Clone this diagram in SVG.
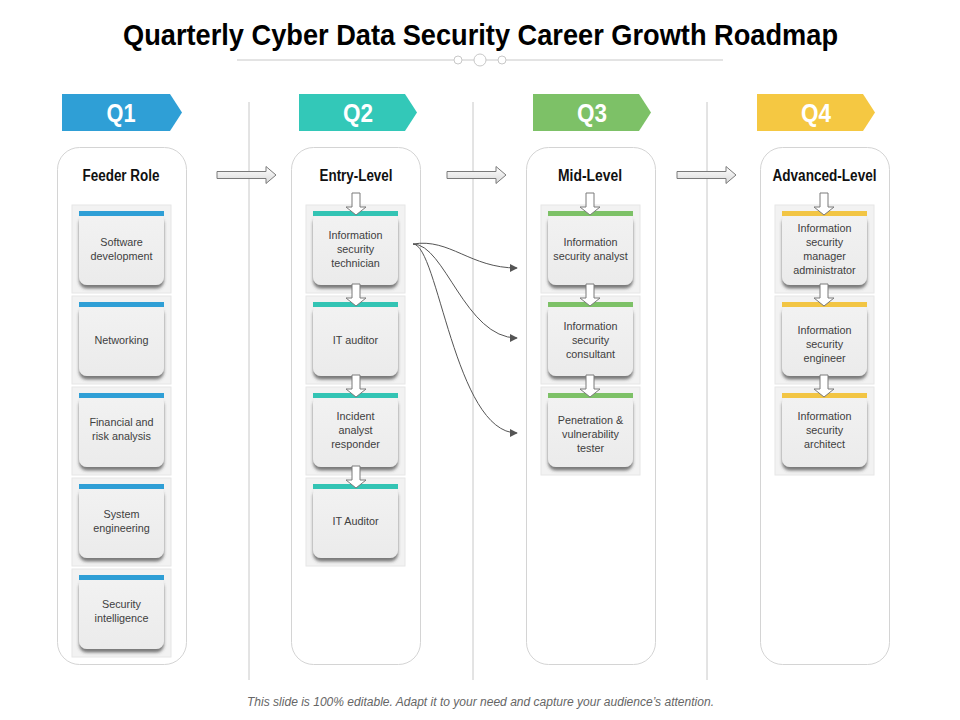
<svg xmlns="http://www.w3.org/2000/svg" width="960" height="720" viewBox="0 0 960 720">
<defs>
<style>
.title{font-family:"Liberation Sans",Arial,sans-serif;font-weight:bold;font-size:30px;fill:#000}
.q{font-family:"Liberation Sans",Arial,sans-serif;font-weight:bold;font-size:26px;fill:#fff;text-anchor:middle}
.hdr{font-family:"Liberation Sans",Arial,sans-serif;font-weight:bold;font-size:16px;fill:#111;text-anchor:middle}
.t{font-family:"Liberation Sans",Arial,sans-serif;font-size:10.8px;fill:#404040;text-anchor:middle}
.foot{font-family:"Liberation Sans",Arial,sans-serif;font-style:italic;font-size:12px;fill:#666}
.sep{stroke:#c8c8c8;stroke-width:1}
.panel{fill:#fff;stroke:#d4d4d4;stroke-width:1}
.outer{fill:#f2f2f2;stroke:#e6e6e6;stroke-width:1}
.body{fill:url(#cg);filter:url(#sh)}
.b1{fill:#2f9fd6}.b2{fill:#33c4b4}.b3{fill:#7dc167}.b4{fill:#f2c544}
.blk{fill:url(#ag);stroke:#7a7a7a;stroke-width:1}
.dn{fill:#fff;stroke:#7a7a7a;stroke-width:1}
.con{fill:none;stroke:#555;stroke-width:1;marker-end:url(#ah)}
.deco{fill:#fff;stroke:#c8c8c8;stroke-width:1}
</style>
<linearGradient id="cg" x1="0" y1="0" x2="0" y2="1"><stop offset="0" stop-color="#f2f2f2"/><stop offset="1" stop-color="#ebebeb"/></linearGradient>
<linearGradient id="ag" x1="0" y1="0" x2="0" y2="1"><stop offset="0" stop-color="#ffffff"/><stop offset="1" stop-color="#d9d9d9"/></linearGradient>
<filter id="sh" x="-20%" y="-20%" width="140%" height="150%"><feDropShadow dx="0" dy="3.5" stdDeviation="1.6" flood-color="#444" flood-opacity="0.7"/></filter>
<marker id="ah" viewBox="0 0 10 10" refX="9" refY="5" markerWidth="8" markerHeight="8" orient="auto" markerUnits="userSpaceOnUse"><path d="M0,0 L10,5 L0,10 Z" fill="#555"/></marker>
</defs>
<rect width="960" height="720" fill="#fff"/>

<g id="title">
<text class="title" x="123" y="45" textLength="715" lengthAdjust="spacingAndGlyphs">Quarterly Cyber Data Security Career Growth Roadmap</text>
<line class="sep" x1="237" y1="60" x2="454" y2="60"/>
<line class="sep" x1="462" y1="60" x2="474" y2="60"/>
<line class="sep" x1="486" y1="60" x2="498" y2="60"/>
<line class="sep" x1="506" y1="60" x2="723" y2="60"/>
<circle class="deco" cx="458" cy="60" r="4"/>
<circle class="deco" cx="480" cy="60" r="6"/>
<circle class="deco" cx="502" cy="60" r="4"/>
</g>

<g id="separators">
<line class="sep" x1="249" y1="102" x2="249" y2="680"/>
<line class="sep" x1="473" y1="102" x2="473" y2="680"/>
<line class="sep" x1="707" y1="102" x2="707" y2="680"/>
</g>

<g id="banners">
<g id="q1"><path d="M62,94 H170 L182,112.5 L170,131 H62 Z" fill="#2f9fd6"/><text class="q" x="121" y="122" textLength="29" lengthAdjust="spacingAndGlyphs">Q1</text></g>
<g id="q2"><path d="M299,94 H405 L417,112.5 L405,131 H299 Z" fill="#33c8b8"/><text class="q" x="358" y="122" textLength="30" lengthAdjust="spacingAndGlyphs">Q2</text></g>
<g id="q3"><path d="M533,94 H639 L651,112.5 L639,131 H533 Z" fill="#7dc167"/><text class="q" x="592" y="122" textLength="30" lengthAdjust="spacingAndGlyphs">Q3</text></g>
<g id="q4"><path d="M757,94 H863 L875,112.5 L863,131 H757 Z" fill="#f5c842"/><text class="q" x="816" y="122" textLength="30" lengthAdjust="spacingAndGlyphs">Q4</text></g>
</g>

<g id="panels">
<g id="col1"><rect class="panel" x="57.5" y="147.5" width="129" height="517" rx="22"/><text class="hdr" x="121" y="181" textLength="77" lengthAdjust="spacingAndGlyphs">Feeder Role</text></g>
<g id="col2"><rect class="panel" x="291.5" y="147.5" width="129" height="517" rx="22"/><text class="hdr" x="356" y="181" textLength="73" lengthAdjust="spacingAndGlyphs">Entry-Level</text></g>
<g id="col3"><rect class="panel" x="526.5" y="147.5" width="129" height="517" rx="22"/><text class="hdr" x="590" y="181" textLength="64" lengthAdjust="spacingAndGlyphs">Mid-Level</text></g>
<g id="col4"><rect class="panel" x="760.5" y="147.5" width="129" height="517" rx="22"/><text class="hdr" x="824.5" y="181" textLength="104" lengthAdjust="spacingAndGlyphs">Advanced-Level</text></g>
</g>

<g id="q1-cards">
<g id="n-software"><rect class="outer" x="72" y="205" width="99" height="88"/><rect class="body" x="79" y="213" width="85" height="72" rx="8"/><rect class="b1" x="79" y="211" width="85" height="5"/><text class="t" x="121.5" y="246">Software</text><text class="t" x="121.5" y="260">development</text></g>
<g id="n-networking"><rect class="outer" x="72" y="296" width="99" height="88"/><rect class="body" x="79" y="304" width="85" height="72" rx="8"/><rect class="b1" x="79" y="302" width="85" height="5"/><text class="t" x="121.5" y="344">Networking</text></g>
<g id="n-financial"><rect class="outer" x="72" y="387" width="99" height="88"/><rect class="body" x="79" y="395" width="85" height="72" rx="8"/><rect class="b1" x="79" y="393" width="85" height="5"/><text class="t" x="121.5" y="426">Financial  and</text><text class="t" x="121.5" y="440">risk analysis</text></g>
<g id="n-system"><rect class="outer" x="72" y="478" width="99" height="88"/><rect class="body" x="79" y="486" width="85" height="72" rx="8"/><rect class="b1" x="79" y="484" width="85" height="5"/><text class="t" x="121.5" y="518">System</text><text class="t" x="121.5" y="532">engineering</text></g>
<g id="n-secintel"><rect class="outer" x="72" y="569" width="99" height="88"/><rect class="body" x="79" y="577" width="85" height="72" rx="8"/><rect class="b1" x="79" y="575" width="85" height="5"/><text class="t" x="121.5" y="608">Security</text><text class="t" x="121.5" y="622">intelligence</text></g>
</g>

<g id="q2-cards">
<g id="n-technician"><rect class="outer" x="306" y="205" width="99" height="88"/><rect class="body" x="313" y="213" width="85" height="72" rx="8"/><rect class="b2" x="313" y="211" width="85" height="5"/><text class="t" x="355.5" y="239">Information</text><text class="t" x="355.5" y="253">security</text><text class="t" x="355.5" y="267">technician</text></g>
<g id="n-itauditor1"><rect class="outer" x="306" y="296" width="99" height="88"/><rect class="body" x="313" y="304" width="85" height="72" rx="8"/><rect class="b2" x="313" y="302" width="85" height="5"/><text class="t" x="355.5" y="344">IT auditor</text></g>
<g id="n-incident"><rect class="outer" x="306" y="387" width="99" height="88"/><rect class="body" x="313" y="395" width="85" height="72" rx="8"/><rect class="b2" x="313" y="393" width="85" height="5"/><text class="t" x="355.5" y="420">Incident</text><text class="t" x="355.5" y="434">analyst</text><text class="t" x="355.5" y="448">responder</text></g>
<g id="n-itauditor2"><rect class="outer" x="306" y="478" width="99" height="88"/><rect class="body" x="313" y="486" width="85" height="72" rx="8"/><rect class="b2" x="313" y="484" width="85" height="5"/><text class="t" x="355.5" y="525">IT Auditor</text></g>
</g>

<g id="q3-cards">
<g id="n-analyst"><rect class="outer" x="541" y="205" width="99" height="88"/><rect class="body" x="548" y="213" width="85" height="72" rx="8"/><rect class="b3" x="548" y="211" width="85" height="5"/><text class="t" x="590.5" y="246">Information</text><text class="t" x="590.5" y="260">security  analyst</text></g>
<g id="n-consultant"><rect class="outer" x="541" y="296" width="99" height="88"/><rect class="body" x="548" y="304" width="85" height="72" rx="8"/><rect class="b3" x="548" y="302" width="85" height="5"/><text class="t" x="590.5" y="330">Information</text><text class="t" x="590.5" y="344">security</text><text class="t" x="590.5" y="358">consultant</text></g>
<g id="n-pentester"><rect class="outer" x="541" y="387" width="99" height="88"/><rect class="body" x="548" y="395" width="85" height="72" rx="8"/><rect class="b3" x="548" y="393" width="85" height="5"/><text class="t" x="590.5" y="424">Penetration  &amp;</text><text class="t" x="590.5" y="438">vulnerability</text><text class="t" x="590.5" y="452">tester</text></g>
</g>

<g id="q4-cards">
<g id="n-manager"><rect class="outer" x="775" y="205" width="99" height="88"/><rect class="body" x="782" y="213" width="85" height="72" rx="8"/><rect class="b4" x="782" y="211" width="85" height="5"/><text class="t" x="824.5" y="232">Information</text><text class="t" x="824.5" y="246">security</text><text class="t" x="824.5" y="260">manager</text><text class="t" x="824.5" y="274">administrator</text></g>
<g id="n-engineer"><rect class="outer" x="775" y="296" width="99" height="88"/><rect class="body" x="782" y="304" width="85" height="72" rx="8"/><rect class="b4" x="782" y="302" width="85" height="5"/><text class="t" x="824.5" y="334">Information</text><text class="t" x="824.5" y="348">security</text><text class="t" x="824.5" y="362">engineer</text></g>
<g id="n-architect"><rect class="outer" x="775" y="387" width="99" height="88"/><rect class="body" x="782" y="395" width="85" height="72" rx="8"/><rect class="b4" x="782" y="393" width="85" height="5"/><text class="t" x="824.5" y="420">Information</text><text class="t" x="824.5" y="434">security</text><text class="t" x="824.5" y="448">architect</text></g>
</g>

<g id="connectors">
<path class="blk" d="M217,171.5 H266 V166.5 L276,175 L266,183.5 V178.5 H217 Z"/>
<path class="blk" d="M447,171.5 H496 V166.5 L506,175 L496,183.5 V178.5 H447 Z"/>
<path class="blk" d="M677,171.5 H726 V166.5 L736,175 L726,183.5 V178.5 H677 Z"/>
<path class="dn" d="M352,193 H360 V207 H366 L356,215 L346,207 H352 Z"/>
<path class="dn" d="M352,284 H360 V298 H366 L356,306 L346,298 H352 Z"/>
<path class="dn" d="M352,375 H360 V389 H366 L356,397 L346,389 H352 Z"/>
<path class="dn" d="M352,466 H360 V480 H366 L356,488 L346,480 H352 Z"/>
<path class="dn" d="M586,193 H594 V207 H600 L590,215 L580,207 H586 Z"/>
<path class="dn" d="M586,284 H594 V298 H600 L590,306 L580,298 H586 Z"/>
<path class="dn" d="M586,375 H594 V389 H600 L590,397 L580,389 H586 Z"/>
<path class="dn" d="M820,193 H828 V207 H834 L824,215 L814,207 H820 Z"/>
<path class="dn" d="M820,284 H828 V298 H834 L824,306 L814,298 H820 Z"/>
<path class="dn" d="M820,375 H828 V389 H834 L824,397 L814,389 H820 Z"/>
<path class="con" d="M413,244 C450,238 470,268 517,268"/>
<path class="con" d="M413,244 C445,244 465,338 517,338"/>
<path class="con" d="M413,244 C438,244 455,433 517,433"/>
</g>

<g id="footer">
<text class="foot" x="247" y="706" textLength="467" lengthAdjust="spacingAndGlyphs">This slide is 100% editable. Adapt it to your need and capture your audience’s attention.</text>
</g>
</svg>
